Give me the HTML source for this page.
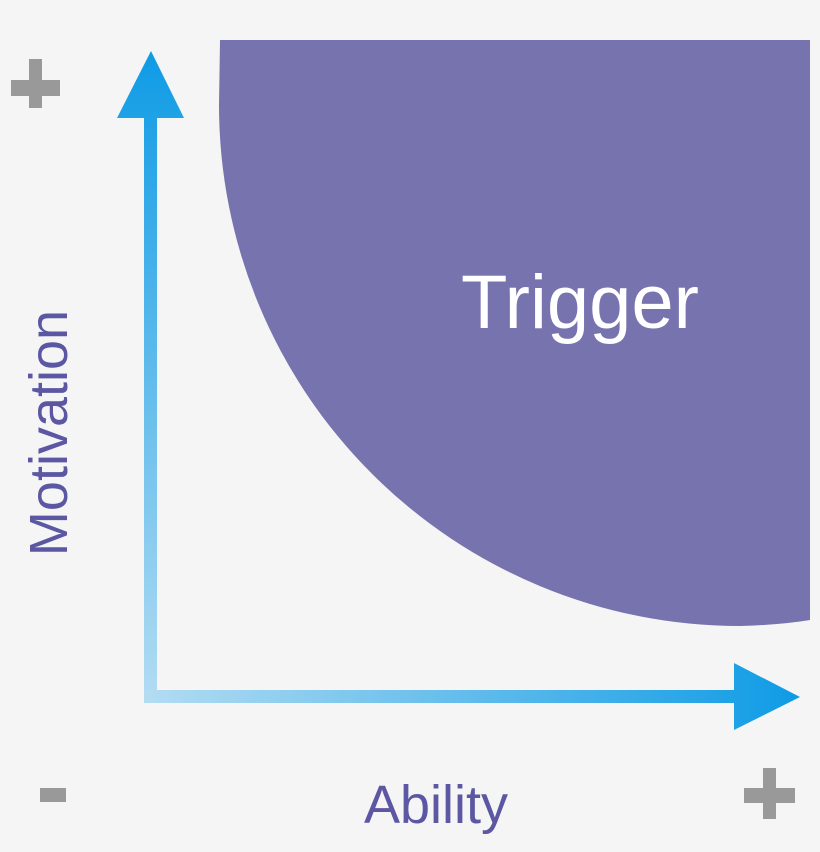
<!DOCTYPE html>
<html><head><style>
html,body{margin:0;padding:0;background:#f5f5f5;}
</style></head><body>
<svg width="820" height="852" viewBox="0 0 820 852" xmlns="http://www.w3.org/2000/svg" style="display:block">
<defs>
<linearGradient id="gv" x1="0" y1="703" x2="0" y2="51" gradientUnits="userSpaceOnUse">
<stop offset="0" stop-color="#b3dcf2"/><stop offset="1" stop-color="#0e9be5"/></linearGradient>
<linearGradient id="gh" x1="144" y1="0" x2="800" y2="0" gradientUnits="userSpaceOnUse">
<stop offset="0" stop-color="#b3dcf2"/><stop offset="1" stop-color="#0e9be5"/></linearGradient>
</defs>
<rect width="820" height="852" fill="#f5f5f5"/>
<path d="M220,40 L219,105 A521 521 0 0 0 740 626 Q780 625 810 620 L810 40 Z" fill="#7673af"/>
<text x="580" y="328" font-family="Liberation Sans, sans-serif" font-size="76" fill="#fff" text-anchor="middle">Trigger</text>
<rect x="144" y="110" width="13" height="593" fill="url(#gv)"/>
<polygon points="151,51 184,118 117,118" fill="url(#gv)"/>
<rect x="144" y="690" width="595" height="13" fill="url(#gh)"/>
<polygon points="734,663 800,697 734,730" fill="url(#gh)"/>
<text transform="translate(67,433) rotate(-90)" font-family="Liberation Sans, sans-serif" font-size="54" fill="#5c57a3" text-anchor="middle">Motivation</text>
<text x="436" y="823" font-family="Liberation Sans, sans-serif" font-size="54" fill="#5c57a3" text-anchor="middle">Ability</text>
<g fill="#999">
<rect x="11" y="80" width="49" height="16"/><rect x="29" y="59" width="13" height="49"/>
<rect x="40" y="788" width="26" height="14"/>
<rect x="744" y="788" width="51" height="15"/><rect x="763" y="768" width="13" height="51"/>
</g>
</svg>
</body></html>
